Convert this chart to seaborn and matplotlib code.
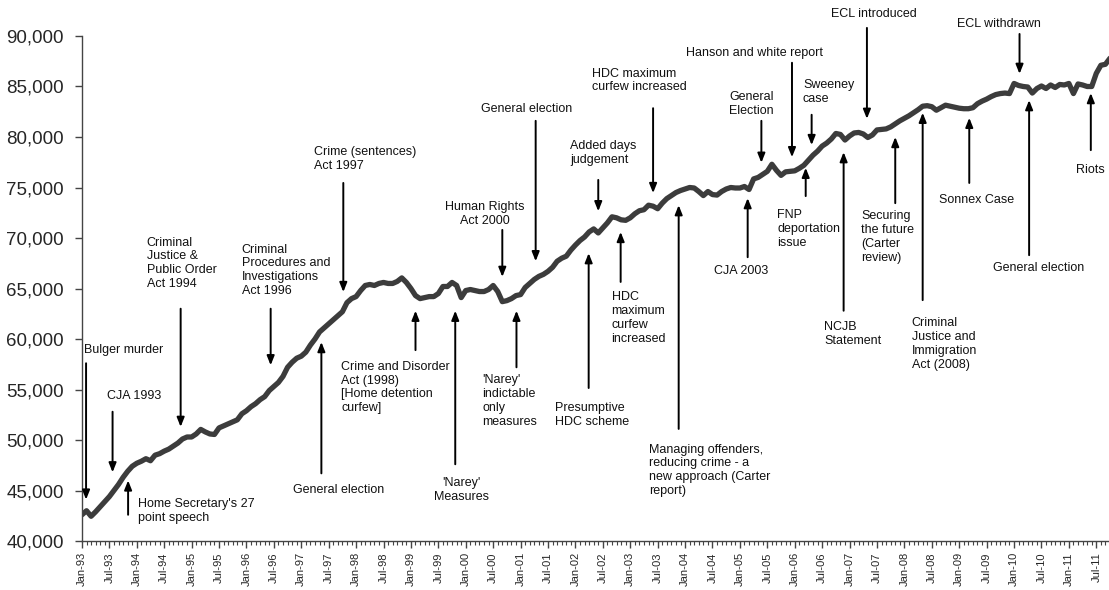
import numpy as np
import pandas as pd
import matplotlib
matplotlib.use("Agg")
import matplotlib.pyplot as plt
from matplotlib.ticker import FuncFormatter, MultipleLocator
import seaborn as sns

# monthly prison population, Jan-93 .. Oct-11
y1993 = [42600, 43000, 42450, 42900, 43400, 43900, 44400, 45000, 45600, 46300, 46900, 47400]
y1994 = [47700, 47900, 48150, 47950, 48500, 48650, 48900, 49100, 49400, 49700, 50100, 50300]
y1995 = [50300, 50600, 51050, 50800, 50600, 50550, 51200, 51400, 51600, 51800, 52000, 52600]
y1996 = [52900, 53300, 53600, 54000, 54300, 54900, 55300, 55700, 56300, 57200, 57700, 58100]
y1997 = [58300, 58700, 59400, 60000, 60700, 61100, 61500, 61900, 62300, 62700, 63600, 64000]
y1998 = [64200, 64800, 65300, 65400, 65300, 65500, 65600, 65500, 65500, 65700, 66050, 65600]
y1999 = [65000, 64300, 64000, 64100, 64200, 64200, 64500, 65200, 65200, 65600, 65300, 64100]
y2000 = [64800, 64900, 64800, 64700, 64700, 64900, 65300, 64700, 63700, 63800, 64000, 64300]
y2001 = [64400, 65100, 65500, 65900, 66200, 66400, 66700, 67100, 67700, 68000, 68200, 68800]
y2002 = [69300, 69750, 70100, 70600, 70900, 70500, 71000, 71500, 72100, 72000, 71800, 71750]
y2003 = [72000, 72400, 72700, 72800, 73250, 73150, 72900, 73450, 73900, 74200, 74500, 74700]
y2004 = [74850, 75000, 74950, 74600, 74200, 74600, 74300, 74250, 74600, 74850, 75000, 74950]
y2005 = [74950, 75100, 74800, 75850, 76000, 76300, 76600, 77300, 76700, 76200, 76550, 76600]
y2006 = [76650, 76900, 77200, 77700, 78200, 78600, 79100, 79400, 79800, 80350, 80250, 79700]
y2007 = [80100, 80400, 80450, 80300, 79950, 80200, 80700, 80750, 80800, 81000, 81300, 81600]
y2008 = [81850, 82100, 82400, 82700, 83050, 83100, 83000, 82650, 82900, 83150, 83050, 82950]
y2009 = [82850, 82800, 82800, 82900, 83300, 83550, 83750, 84000, 84200, 84300, 84350, 84300]
y2010 = [85300, 85100, 85000, 84950, 84350, 84800, 85050, 84800, 85150, 84900, 85200, 85150]
y2011 = [85300, 84300, 85250, 85150, 85000, 85000, 86300, 87100, 87200, 87800]

population = (y1993 + y1994 + y1995 + y1996 + y1997 + y1998 + y1999 + y2000 + y2001
              + y2002 + y2003 + y2004 + y2005 + y2006 + y2007 + y2008 + y2009 + y2010 + y2011)
months = pd.date_range("1993-01-01", periods=len(population), freq="MS")

# events: label, text x (month), text y, h-align, arrow x, arrow tail y, arrow tip y
events = [
    ("Bulger murder", 0.4, 58900, "left", 0.9, 57600, 44100),
    ("CJA 1993", 11.5, 54400, "center", 6.7, 52800, 46800),
    ("Home Secretary's 27\npoint speech", 12.2, 43000, "left", 10.1, 42600, 46000),
    ("Criminal\nJustice &\nPublic Order\nAct 1994", 14.2, 67500, "left", 21.6, 63000, 51300),
    ("Criminal\nProcedures and\nInvestigations\nAct 1996", 35.0, 66800, "left", 41.3, 63000, 57400),
    ("Crime (sentences)\nAct 1997", 50.7, 77800, "left", 57.2, 75450, 64650),
    ("General election", 46.2, 45050, "left", 52.4, 46700, 59700),
    ("Crime and Disorder\nAct (1998)\n[Home detention\ncurfew]", 56.8, 55200, "left", 73.0, 58900, 62800),
    ("'Narey'\nMeasures", 83.0, 45050, "center", 81.7, 47600, 62800),
    ("'Narey'\nindictable\nonly\nmeasures", 87.6, 53850, "left", 95.1, 57200, 62800),
    ("Human Rights\nAct 2000", 88.1, 72400, "center", 92.0, 70800, 66150),
    ("General election", 97.3, 82750, "center", 99.3, 81600, 67700),
    ("Presumptive\nHDC scheme", 103.5, 52500, "left", 110.9, 55150, 68500),
    ("Added days\njudgement", 106.9, 78400, "left", 113.0, 75750, 72650),
    ("HDC\nmaximum\ncurfew\nincreased", 115.9, 62100, "left", 117.9, 65650, 70600),
    ("HDC maximum\ncurfew increased", 111.7, 85600, "left", 125.0, 82850, 74450),
    ("Managing offenders,\nreducing crime - a\nnew approach (Carter\nreport)", 124.1, 47000, "left", 130.6, 51100, 73250),
    ("CJA 2003", 144.3, 66750, "center", 145.7, 68100, 73950),
    ("General\nElection", 146.5, 83250, "center", 148.7, 81600, 77450),
    ("Hanson and white report", 147.2, 88300, "center", 155.4, 87350, 78000),
    ("Sweeney\ncase", 157.8, 84450, "left", 159.7, 82200, 79200),
    ("FNP\ndeportation\nissue", 152.2, 70900, "left", 158.4, 74150, 76950),
    ("ECL introduced", 173.4, 92200, "center", 171.8, 90800, 81800),
    ("NCJB\nStatement", 162.5, 60500, "left", 166.7, 62800, 78500),
    ("Securing\nthe future\n(Carter\nreview)", 170.5, 70100, "left", 178.0, 73450, 80000),
    ("Criminal\nJustice and\nImmigration\nAct (2008)", 181.6, 59500, "left", 184.0, 63850, 82400),
    ("Sonnex Case", 195.8, 73750, "center", 194.2, 75450, 81900),
    ("ECL withdrawn", 200.8, 91200, "center", 205.2, 90200, 86250),
    ("General election", 209.3, 67050, "center", 207.3, 68300, 83650),
    ("Riots", 220.8, 76750, "center", 220.8, 78700, 84350),
]

sns.set_style("ticks")
plt.rcParams["font.family"] = ["Liberation Sans", "DejaVu Sans"]

fig = plt.figure(figsize=(11.09, 5.90), dpi=100)
ax = fig.add_axes([0.0739, 0.083, 0.927, 0.856])

idx = np.arange(len(population))
sns.lineplot(x=idx, y=population, color="#3c3c3c", linewidth=3.8, ax=ax)

ax.set_xlim(0, 225)
ax.set_ylim(40000, 90000)
ax.yaxis.set_major_locator(MultipleLocator(5000))
ax.yaxis.set_major_formatter(FuncFormatter(lambda v, _: f"{v:,.0f}"))

major = idx[::6]
ax.set_xticks(major)
ax.set_xticklabels([months[i].strftime("%b-%y") for i in major], rotation=90, fontsize=8)
ax.xaxis.set_minor_locator(MultipleLocator(1))
ax.tick_params(axis="y", labelsize=13.5, length=5, width=1, color="#444444", pad=8)
ax.tick_params(axis="x", which="major", length=5, width=1, color="#444444", pad=3)
ax.tick_params(axis="x", which="minor", length=3, width=0.8, color="#444444")

sns.despine(ax=ax)
for side in ["left", "bottom"]:
    ax.spines[side].set_color("#444444")
    ax.spines[side].set_linewidth(1)

for label, tx, ty, ha, axx, tail, tip in events:
    ax.text(tx, ty, label, ha=ha, va="center", fontsize=9, color="#111111",
            linespacing=1.2)
    ax.annotate("", xy=(axx, tip), xytext=(axx, tail),
                arrowprops=dict(arrowstyle="-|>,head_length=0.55,head_width=0.22",
                                color="black", lw=1.4, shrinkA=0, shrinkB=0),
                annotation_clip=False)

ax.set_xlabel("")
ax.set_ylabel("")
fig.savefig("out.png", dpi=100)
